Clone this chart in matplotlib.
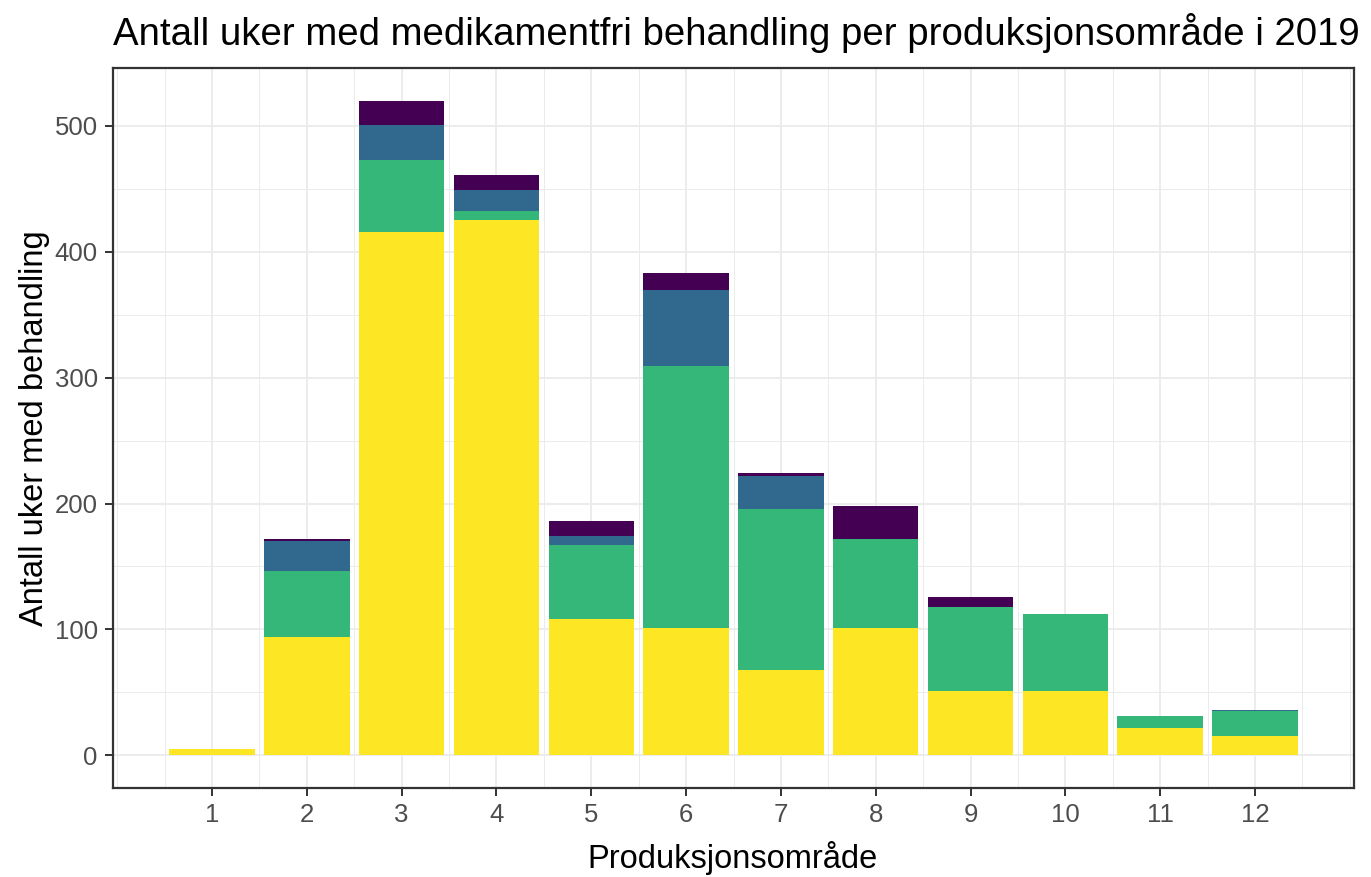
import matplotlib.pyplot as plt
import numpy as np

plt.rcParams['font.family'] = ['Liberation Sans', 'DejaVu Sans']

# production areas and weeks per treatment type (stacked bottom -> top)
areas = np.arange(1, 13)
yellow = [5, 94, 416, 425, 108, 101, 68, 101, 51, 51, 22, 15]
green = [0, 52, 57, 7, 59, 208, 128, 71, 67, 61, 9, 20]
blue = [0, 24, 28, 17, 7, 61, 26, 0, 0, 0, 0, 1]
purple = [0, 2, 19, 12, 12, 13, 2, 26, 8, 0, 0, 0]

series = [yellow, green, blue, purple]
colors = ['#FDE725', '#35B779', '#31688E', '#440154']

W, H = 1371, 877
fig = plt.figure(figsize=(W / 100, H / 100), dpi=100)
ax = fig.add_axes([113 / W, 1 - 788 / H, (1354 - 113) / W, (788 - 68) / H])

bottom = np.zeros(len(areas))
for vals, col in zip(series, colors):
    ax.bar(areas, vals, bottom=bottom, width=0.9, color=col, zorder=3)
    bottom += np.array(vals)

ax.set_xlim(-0.045, 13.045)
ax.set_ylim(-26, 546)
ax.set_xticks(areas)
ax.set_yticks([0, 100, 200, 300, 400, 500])
ax.set_xticks(np.arange(0, 13.01, 0.5), minor=True)
ax.set_yticks(np.arange(50, 546, 100), minor=True)

ax.grid(which='major', color='#EBEBEB', lw=1.3, zorder=0)
ax.grid(which='minor', color='#EBEBEB', lw=0.7, zorder=0)
ax.set_axisbelow(True)

for s in ax.spines.values():
    s.set_color('#333333')
    s.set_linewidth(1.6)

ax.tick_params(which='major', length=6, width=1.4, color='#333333',
               labelsize=18.5, labelcolor='#4D4D4D', pad=5)
ax.tick_params(which='minor', length=0)

fig.text(113 / W, 1 - 45 / H,
         'Antall uker med medikamentfri behandling per produksjonsområde i 2019',
         fontsize=27.6, ha='left', va='baseline', color='black')
fig.text(733 / W, 1 - 858 / H, 'Produksjonsområde', fontsize=23.5,
         ha='center', va='center', color='black')
fig.text(35 / W, 1 - 428 / H, 'Antall uker med behandling', fontsize=23.5,
         ha='center', va='center', rotation=90, color='black')

fig.savefig('out.png', dpi=100)
